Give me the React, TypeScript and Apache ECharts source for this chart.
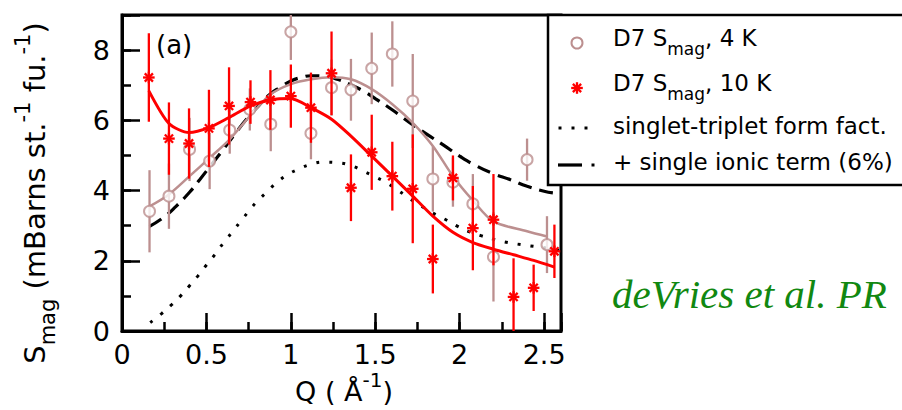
import React, { useEffect, useRef } from "react";
import * as echarts from "echarts";

// ---- data ----
const q4K = [0.163, 0.278, 0.40, 0.519, 0.638, 0.757, 0.881, 1.0, 1.119, 1.241, 1.356, 1.479, 1.601, 1.722, 1.841, 1.96, 2.078, 2.20, 2.399, 2.517];
const s4K = [3.41, 3.84, 5.17, 4.84, 5.72, 6.31, 5.89, 8.52, 5.63, 6.93, 6.87, 7.48, 7.89, 6.55, 4.33, 4.24, 3.62, 2.11, 4.88, 2.46];
const e4K = [1.17, 0.93, 0.9, 0.8, 0.67, 0.6, 0.77, 0.8, 0.74, 0.8, 0.88, 1.02, 0.93, 1.34, 0.93, 0.7, 0.85, 1.27, 0.6, 0.81];
const fit4K = [3.55, 3.89, 4.41, 4.93, 5.46, 6.12, 6.74, 7.03, 7.17, 7.23, 7.17, 6.89, 6.46, 5.93, 5.27, 4.41, 3.72, 3.12, 2.84, 2.69];

const q10K = [0.159, 0.278, 0.397, 0.515, 0.634, 0.761, 0.879, 1.0, 1.119, 1.241, 1.356, 1.479, 1.601, 1.722, 1.841, 1.96, 2.078, 2.20, 2.319, 2.438, 2.561];
const s10K = [7.22, 5.48, 5.34, 5.77, 6.41, 6.52, 6.58, 6.69, 6.36, 7.34, 4.08, 5.09, 4.41, 4.05, 2.05, 4.36, 2.93, 3.17, 0.97, 1.23, 2.27];
const e10K = [1.26, 1.03, 1.0, 1.1, 1.1, 0.62, 0.85, 0.9, 1.0, 1.19, 0.95, 1.07, 0.98, 1.55, 0.98, 0.64, 1.2, 1.3, 1.1, 0.66, 0.76];
const fit10K = [6.84, 5.91, 5.65, 5.79, 6.08, 6.41, 6.58, 6.62, 6.36, 6.03, 5.55, 4.98, 4.41, 3.84, 3.27, 2.81, 2.52, 2.33, 2.17, 2.01, 1.82];

const qIonic = [0.163, 0.25, 0.32, 0.40, 0.46, 0.53, 0.60, 0.67, 0.737, 0.81, 0.875, 0.94, 1.0, 1.06, 1.12, 1.2, 1.28, 1.35, 1.42, 1.5, 1.6, 1.7, 1.8, 1.9, 2.0, 2.1, 2.2, 2.3, 2.4, 2.5, 2.557];
const sIonic = [2.98, 3.25, 3.55, 3.95, 4.31, 4.74, 5.17, 5.62, 6.03, 6.42, 6.74, 6.95, 7.12, 7.22, 7.27, 7.26, 7.16, 7.02, 6.86, 6.62, 6.3, 5.95, 5.62, 5.31, 4.98, 4.7, 4.48, 4.31, 4.12, 3.98, 3.93];

const qSinglet = [0.167, 0.233, 0.292, 0.347, 0.40, 0.45, 0.5, 0.549, 0.598, 0.648, 0.697, 0.747, 0.796, 0.856, 0.915, 0.98, 1.05, 1.12, 1.2, 1.28, 1.356, 1.43, 1.504, 1.574, 1.643, 1.706, 1.776, 1.84, 1.91, 1.98, 2.05, 2.13, 2.21, 2.286, 2.363, 2.438, 2.517, 2.587];
const sSinglet = [0.24, 0.49, 0.74, 1.0, 1.29, 1.57, 1.88, 2.17, 2.49, 2.79, 3.09, 3.39, 3.67, 3.95, 4.22, 4.45, 4.62, 4.75, 4.81, 4.79, 4.71, 4.55, 4.38, 4.2, 3.98, 3.76, 3.55, 3.36, 3.19, 3.0, 2.84, 2.71, 2.6, 2.52, 2.46, 2.41, 2.36, 2.29];

const xTickLabels = [0, 0.5, 1, 1.5, 2, 2.5];
const yTickLabels = [0, 2, 4, 6, 8];

const X_MIN = 0, X_MAX = 2.6, Y_MIN = 0, Y_MAX = 9;
const RED = "#ff0000";
const BROWN = "#bc8f8f";
const FONT = "DejaVu Sans";

const zip = (a: number[], b: number[], c?: number[]) => a.map((v, i) => (c ? [v, b[i], c[i]] : [v, b[i]]));

const errRender = (color: string) => (params: any, api: any) => {
  const x = api.value(0), y = api.value(1), e = api.value(2);
  const lo = Math.max(y - e, Y_MIN), hi = Math.min(y + e, Y_MAX);
  const p1 = api.coord([x, lo]);
  const p2 = api.coord([x, hi]);
  return {
    type: "line",
    shape: { x1: p1[0], y1: p1[1], x2: p2[0], y2: p2[1] },
    style: { stroke: color, lineWidth: 2.3 },
  };
};

const starLines = (cx: number, cy: number, r: number, color: string, w: number, z?: number) =>
  [0, 45, 90, 135].map((a) => {
    const rad = (a * Math.PI) / 180;
    const el: any = {
      type: "line",
      shape: { x1: cx - r * Math.cos(rad), y1: cy - r * Math.sin(rad), x2: cx + r * Math.cos(rad), y2: cy + r * Math.sin(rad) },
      style: { stroke: color, lineWidth: w },
    };
    if (z !== undefined) el.z = z;
    return el;
  });

const starRender = (params: any, api: any) => {
  const p = api.coord([api.value(0), api.value(1)]);
  return { type: "group", children: starLines(p[0], p[1], 5.8, RED, 2.3) };
};

export default function App() {
  const ref = useRef<HTMLDivElement>(null);
  useEffect(() => {
    document.body.style.margin = "0";
    const chart = echarts.init(ref.current!, undefined, { renderer: "svg" });
    const legendText = (y: number, text: string) => ({
      type: "text",
      x: 613,
      y,
      z: 101,
      style: {
        text,
        fontFamily: FONT,
        fontSize: 23,
        fill: "#000",
        align: "left",
        verticalAlign: "middle",
        rich: {
          sub: { fontFamily: FONT, fontSize: 17, lineHeight: 17, padding: [22, 0, 0, 0], fill: "#000" },
        },
      },
    });
    const option: any = {
      animation: false,
      backgroundColor: "#fff",
      grid: { left: 122, top: 15, width: 439, height: 316, show: true, borderColor: "#000", borderWidth: 3, backgroundColor: "transparent" },
      xAxis: [
        {
          type: "value", min: X_MIN, max: X_MAX, interval: 0.5, position: "bottom",
          axisLine: { lineStyle: { color: "#000", width: 3 } },
          axisTick: { inside: true, length: 18, lineStyle: { color: "#000", width: 2.5 } },
          axisLabel: {
            margin: 10, color: "#000", fontFamily: FONT, fontSize: 27,
            formatter: (v: number) => (xTickLabels.some((t) => Math.abs(t - v) < 1e-6) ? String(v) : ""),
          },
          splitLine: { show: false },
        },
        {
          type: "value", min: X_MIN, max: X_MAX, interval: 0.25, position: "bottom",
          axisLine: { show: false },
          axisTick: { inside: true, length: 9, lineStyle: { color: "#000", width: 2.5 } },
          axisLabel: { show: false },
          splitLine: { show: false },
        },
      ],
      yAxis: [
        {
          type: "value", min: Y_MIN, max: Y_MAX, interval: 2, position: "left",
          axisLine: { show: true, lineStyle: { color: "#000", width: 3 } },
          axisTick: { show: true, inside: true, length: 18, lineStyle: { color: "#000", width: 2.5 } },
          axisLabel: {
            margin: 12, color: "#000", fontFamily: FONT, fontSize: 27,
            formatter: (v: number) => (yTickLabels.includes(v) ? String(v) : ""),
          },
          splitLine: { show: false },
        },
        {
          type: "value", min: Y_MIN, max: Y_MAX, interval: 1, position: "left",
          axisLine: { show: false },
          axisTick: { show: true, inside: true, length: 9, lineStyle: { color: "#000", width: 2.5 } },
          axisLabel: { show: false },
          splitLine: { show: false },
        },
      ],
      series: [
        {
          name: "singlet", type: "line", data: zip(qSinglet, sSinglet), showSymbol: false, smooth: true, z: 2,
          lineStyle: { color: "#000", width: 3, type: [3, 10] },
        },
        {
          name: "ionic", type: "line", data: zip(qIonic, sIonic), showSymbol: false, smooth: true, z: 2,
          lineStyle: { color: "#000", width: 3.2, type: [14, 8] },
        },
        {
          name: "fit4K", type: "line", data: zip(q4K, fit4K), showSymbol: false, smooth: 0.3, z: 3,
          lineStyle: { color: BROWN, width: 2.5 },
        },
        {
          name: "err4K", type: "custom", data: zip(q4K, s4K, e4K), renderItem: errRender(BROWN), z: 4,
          encode: { x: 0, y: 1 },
        },
        {
          name: "D7 4K", type: "scatter", data: zip(q4K, s4K), symbol: "circle", symbolSize: 11, z: 5,
          itemStyle: { color: "#fff", borderColor: BROWN, borderWidth: 2 },
        },
        {
          name: "fit10K", type: "line", data: zip(q10K, fit10K), showSymbol: false, smooth: 0.25, z: 6,
          lineStyle: { color: RED, width: 3 },
        },
        {
          name: "err10K", type: "custom", data: zip(q10K, s10K, e10K), renderItem: errRender(RED), z: 7,
          encode: { x: 0, y: 1 },
        },
        {
          name: "D7 10K", type: "custom", data: zip(q10K, s10K), renderItem: starRender, z: 8,
          encode: { x: 0, y: 1 },
        },
      ],
      graphic: [
        // y-axis title
        {
          type: "text", x: 35, y: 193, rotation: Math.PI / 2, z: 50,
          style: {
            text: "S{sub|mag} (mBarns st.{sup|-1} fu.{sup|-1})",
            fontFamily: FONT, fontSize: 29, fill: "#000", align: "center", verticalAlign: "middle",
            rich: {
              sub: { fontFamily: FONT, fontSize: 21, lineHeight: 21, padding: [26, 0, 0, 0], fill: "#000" },
              sup: { fontFamily: FONT, fontSize: 21, lineHeight: 21, padding: [0, 0, 24, 0], fill: "#000" },
            },
          },
        },
        // x-axis title
        {
          type: "text", x: 344, y: 391, z: 50,
          style: {
            text: "Q ( Å{sup|-1})",
            fontFamily: FONT, fontSize: 27, fill: "#000", align: "center", verticalAlign: "middle",
            rich: {
              sup: { fontFamily: FONT, fontSize: 20, lineHeight: 20, padding: [0, 0, 22, 0], fill: "#000" },
            },
          },
        },
        // panel label
        {
          type: "text", x: 156, y: 45, z: 50,
          style: { text: "(a)", fontFamily: FONT, fontSize: 26, fill: "#000", align: "left", verticalAlign: "middle" },
        },
        // citation (visible part in the reference)
        {
          type: "text", x: 612, y: 294, z: 50,
          style: { text: "deVries et al. PR", fontFamily: "Liberation Serif", fontStyle: "italic", fontSize: 41, fill: "#118811", align: "left", verticalAlign: "middle" },
        },
        // legend box
        {
          type: "rect", z: 100, shape: { x: 548, y: 15, width: 380, height: 170 },
          style: { fill: "#fff", stroke: "#000", lineWidth: 2.5 },
        },
        {
          type: "circle", z: 101, shape: { cx: 577, cy: 43, r: 5.5 },
          style: { fill: "#fff", stroke: BROWN, lineWidth: 2 },
        },
        ...starLines(577, 88, 5.8, RED, 2.3, 101),
        ...[560, 573, 586].map((x) => ({ type: "rect", z: 101, shape: { x: x - 1.5, y: 126.5, width: 3, height: 3 }, style: { fill: "#000" } })),
        { type: "line", z: 101, shape: { x1: 558, y1: 165, x2: 582, y2: 165 }, style: { stroke: "#000", lineWidth: 3.2 } },
        { type: "rect", z: 101, shape: { x: 591.5, y: 163.5, width: 3, height: 3 }, style: { fill: "#000" } },
        legendText(38, "D7 S{sub|mag}, 4 K"),
        legendText(83, "D7 S{sub|mag}, 10 K"),
        legendText(126, "singlet-triplet form fact."),
        legendText(162, "+ single ionic term (6%)"),
      ],
    };
    chart.setOption(option);
    return () => chart.dispose();
  }, []);
  return <div ref={ref} style={{ width: 902, height: 410 }} />;
}
